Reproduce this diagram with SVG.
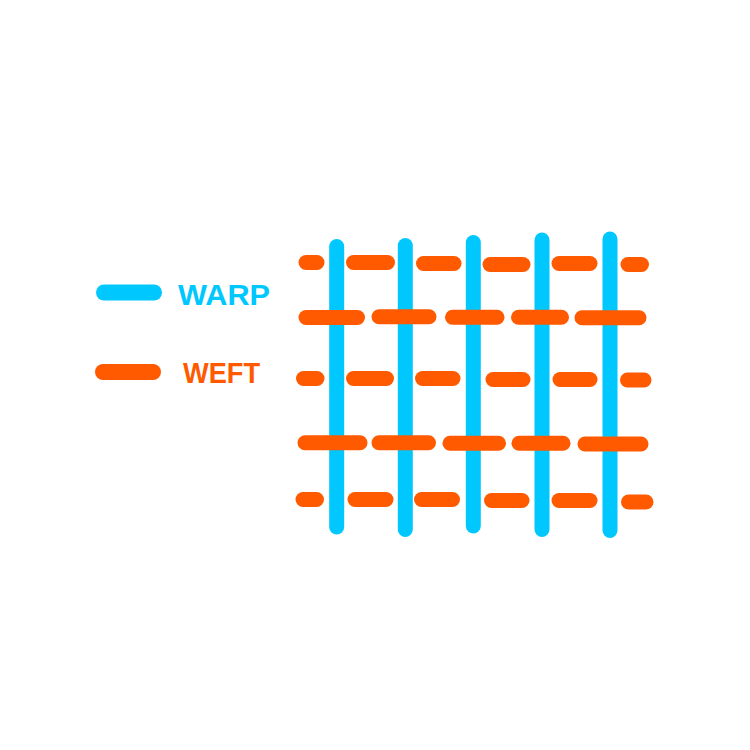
<svg xmlns="http://www.w3.org/2000/svg" width="750" height="750" viewBox="0 0 750 750">
<style>
.warp{stroke:#00C8FF;stroke-width:15;stroke-linecap:round;fill:none}
.weft{stroke:#FF5A00;stroke-width:15;stroke-linecap:round;fill:none}
.lab{font-family:"Liberation Sans",Arial,sans-serif;font-weight:bold;font-size:29px}
</style>
<rect width="750" height="750" fill="#fff"/>
<g id="legend-warp">
<line class="warp" x1="104" y1="292.5" x2="154" y2="292.5" style="stroke-width:16"/>
<text class="lab" x="178" y="305" fill="#00C8FF" textLength="92" lengthAdjust="spacingAndGlyphs">WARP</text>
</g>
<g id="legend-weft">
<line class="weft" x1="103" y1="372" x2="153" y2="372" style="stroke-width:16"/>
<text class="lab" x="183" y="383" fill="#FF5A00" textLength="77" lengthAdjust="spacingAndGlyphs">WEFT</text>
</g>
<g id="weft-under">
<line class="weft" x1="306" y1="262.5" x2="317" y2="262.5"/>
<line class="weft" x1="353.5" y1="262.5" x2="387.5" y2="262.5"/>
<line class="weft" x1="423.5" y1="263.5" x2="454" y2="263.5"/>
<line class="weft" x1="490" y1="264.5" x2="523" y2="264.5"/>
<line class="weft" x1="559" y1="263.5" x2="590" y2="263.5"/>
<line class="weft" x1="628" y1="264.5" x2="641.5" y2="264.5"/>
<line class="weft" x1="303.5" y1="378.5" x2="317" y2="378.5"/>
<line class="weft" x1="353.5" y1="378.5" x2="386.5" y2="378.5"/>
<line class="weft" x1="422.5" y1="378.5" x2="453" y2="378.5"/>
<line class="weft" x1="493" y1="379.5" x2="523" y2="379.5"/>
<line class="weft" x1="560" y1="379.5" x2="590" y2="379.5"/>
<line class="weft" x1="627.5" y1="380" x2="644" y2="380"/>
<line class="weft" x1="303" y1="499.5" x2="316.5" y2="499.5"/>
<line class="weft" x1="355" y1="499.5" x2="386" y2="499.5"/>
<line class="weft" x1="421.5" y1="499.5" x2="452.5" y2="499.5"/>
<line class="weft" x1="491.5" y1="500.5" x2="522" y2="500.5"/>
<line class="weft" x1="559" y1="500.5" x2="590" y2="500.5"/>
<line class="weft" x1="628.5" y1="502" x2="646" y2="502"/>
</g>
<g id="warps">
<line class="warp" x1="336.7" y1="246.5" x2="336.7" y2="527"/>
<line class="warp" x1="405.3" y1="245.5" x2="405.3" y2="529.5"/>
<line class="warp" x1="473.3" y1="242.5" x2="473.3" y2="526"/>
<line class="warp" x1="542" y1="240" x2="542" y2="529.5"/>
<line class="warp" x1="610" y1="239" x2="610" y2="530.5"/>
</g>
<g id="weft-over">
<line class="weft" x1="306" y1="317.5" x2="357.5" y2="317.5"/>
<line class="weft" x1="379" y1="316.7" x2="429" y2="316.7"/>
<line class="weft" x1="452.5" y1="317.3" x2="497" y2="317.3"/>
<line class="weft" x1="518.5" y1="317.3" x2="561.5" y2="317.3"/>
<line class="weft" x1="582" y1="317.7" x2="639" y2="317.7"/>
<line class="weft" x1="305" y1="442.7" x2="360" y2="442.7"/>
<line class="weft" x1="379" y1="442.7" x2="428.5" y2="442.7"/>
<line class="weft" x1="450" y1="443.3" x2="498.5" y2="443.3"/>
<line class="weft" x1="519" y1="443.3" x2="563" y2="443.3"/>
<line class="weft" x1="585" y1="444" x2="641" y2="444"/>
</g>
</svg>
